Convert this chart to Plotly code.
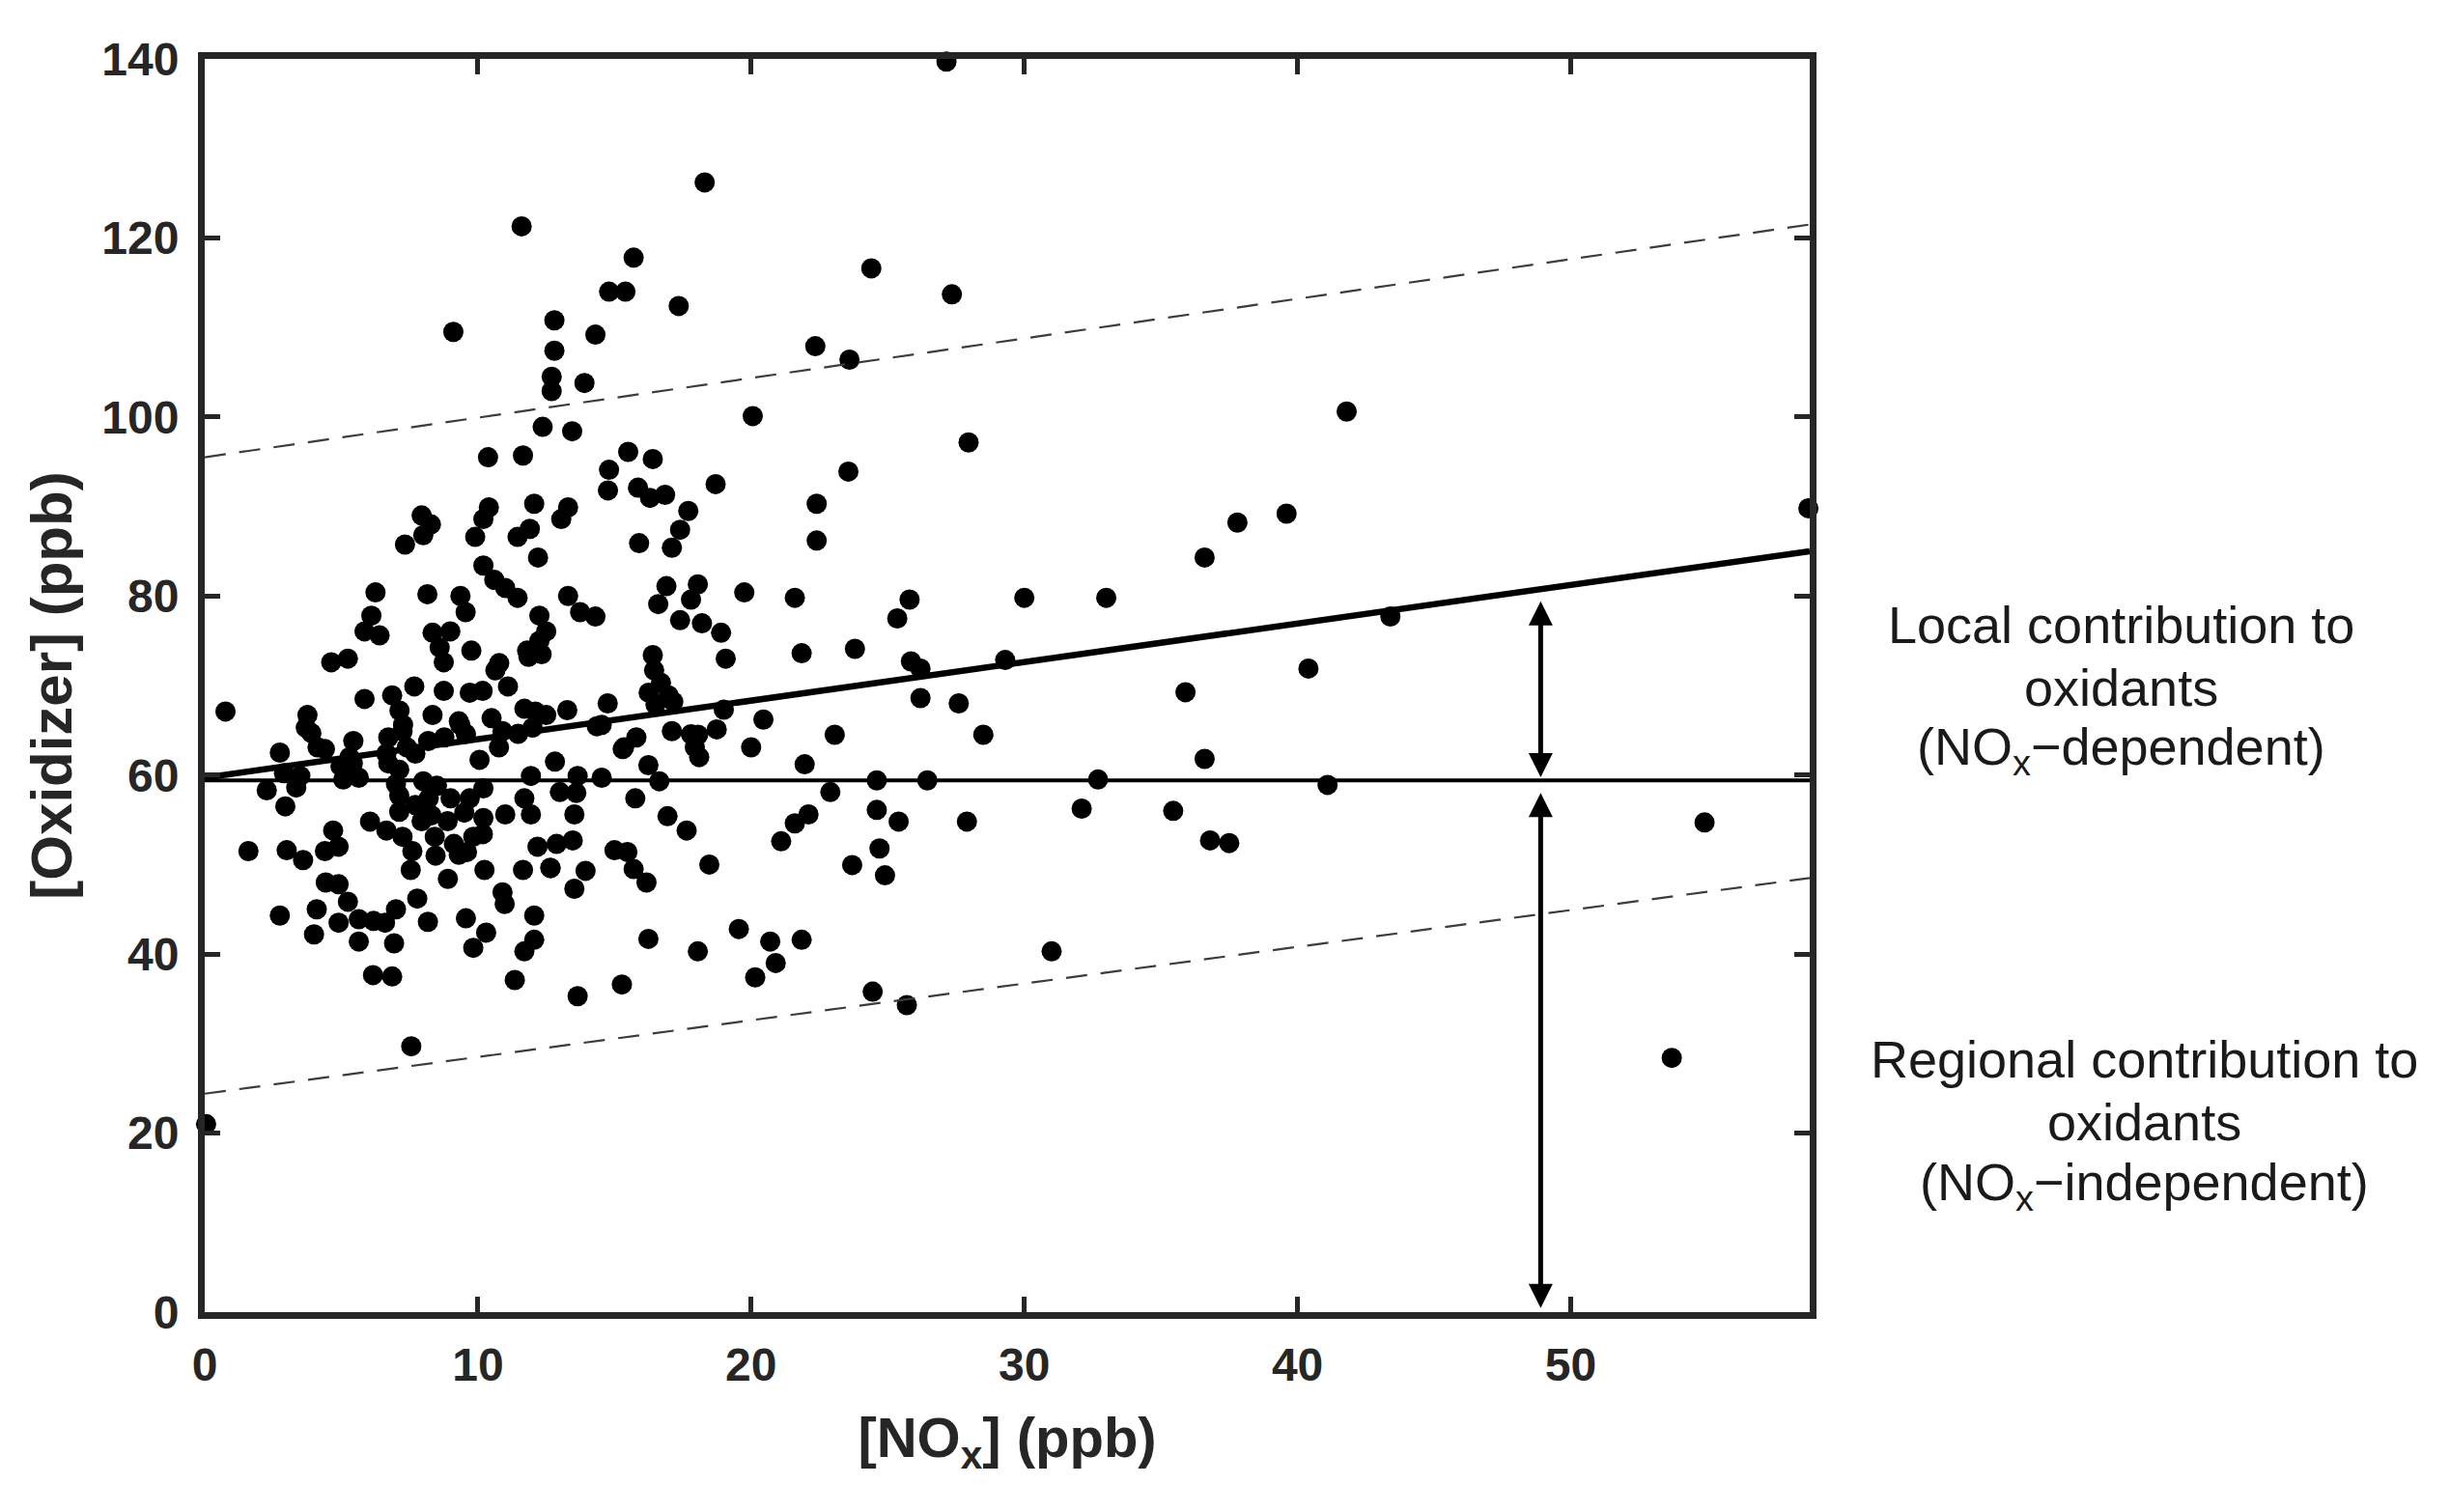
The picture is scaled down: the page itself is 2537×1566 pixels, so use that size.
import plotly.graph_objects as go

# ---- data ----
nox = [
    27.15, 18.3, 11.6, 15.7, 24.4, 14.8, 15.4, 27.35, 17.35, 9.1, 12.8, 14.3, 22.35, 12.8, 23.6,
    12.7, 12.7, 13.9, 20.06, 41.8, 12.37, 13.45, 27.96, 10.37, 11.65, 15.5, 16.4, 14.8, 23.56, 18.7, 15.86,
    14.76, 16.3, 16.85, 22.4, 17.7, 17.4, 17.1, 15.9, 7.94, 8.28, 8.0, 7.33, 10.4, 10.2, 9.9, 12.06,
    11.9, 11.45, 12.2, 13.3, 13.05, 22.4, 36.6, 37.8, 39.6, 58.7,
    10.2, 10.6, 11.0, 11.45, 6.25, 8.15, 9.36, 9.55, 6.1, 5.85, 6.4, 4.63, 5.24, 8.34, 8.99, 8.6, 8.75,
    9.76, 10.78, 10.64, 12.25, 12.5, 11.8, 12.33, 13.3, 13.74, 14.3, 16.4, 16.45, 16.9, 18.05, 16.6,
    17.8, 17.4, 18.2, 18.9, 19.07, 19.75, 21.6, 25.8, 25.35, 30.0, 33.0, 21.85, 23.8, 25.85, 26.2, 29.3,
    43.4, 40.4, 12.25, 11.85,
    0.76, 3.76, 3.9, 4.4, 2.75, 5.85, 5.44, 5.3, 6.86, 7.67, 7.13, 7.26, 8.34, 8.75, 9.7, 10.17, 9.3,
    9.56, 10.5, 10.9, 11.1, 11.7, 12.1, 12.5, 13.27, 12.0, 14.75, 14.35, 15.3, 16.25, 16.7, 16.98, 16.5,
    17.1, 18.06, 18.74, 16.24, 17.15, 26.2, 27.6, 35.9, 19.0, 20.45, 15.8, 20.0, 23.06, 28.5, 36.6,
    21.96, 18.1, 4.13, 3.7, 5.42, 6.65, 7.24, 7.71, 8.18, 8.77, 9.35, 10.06, 10.77, 11.47, 7.12, 14.53,
    15.35, 17.8, 17.94, 12.82, 2.9, 6.72, 7.4, 6.72, 4.97,
    2.27, 2.95, 3.35, 3.5, 5.07, 5.64, 6.05, 7.12, 7.12, 7.71, 8.2, 9.0, 9.7, 6.65, 7.24, 7.94, 8.42,
    8.89, 9.12, 9.83, 10.18, 11.0, 11.94, 11.7, 11.94, 12.18, 4.7, 4.9, 4.4, 3.0, 3.6, 1.6, 13.0, 13.6,
    13.65, 14.53, 13.53, 16.64, 15.76, 16.94, 17.64, 12.88, 13.47, 12.65, 13.94, 13.53, 15.0, 15.47,
    15.7, 16.17, 18.47, 24.6, 26.45, 32.7, 22.9, 24.6, 25.4, 27.9, 32.1, 35.45, 21.6, 22.1, 21.1, 24.7,
    36.8, 37.5, 23.7, 9.3, 41.1, 54.9,
    7.0, 8.0, 8.5, 10.2, 9.5, 8.3, 10.2, 7.6, 9.6,
    4.43, 4.9, 4.1, 5.24, 5.64, 6.18, 6.6, 7.0, 7.78, 8.17, 9.56, 10.9, 10.98, 12.06, 7.54, 8.45, 8.9,
    10.24, 11.65, 2.75, 4.9, 4.0, 5.64, 6.93, 6.16, 6.86, 7.56, 10.3, 9.83, 12.06, 11.7, 11.35, 12.66,
    13.65, 15.27, 16.24, 18.05, 19.55, 20.7, 20.9, 20.15, 21.85, 24.45, 25.7, 31.0, 24.9, 0.05, 53.7,
]
oxidizer = [
    139.7, 126.2, 121.3, 117.8, 116.6, 114.0, 114.0, 113.7, 112.4, 109.5, 110.8, 109.2, 107.9, 107.4, 106.4,
    104.5, 102.9, 103.8, 100.1, 100.6, 98.9, 98.4, 97.15, 95.5, 95.7, 96.1, 95.3, 94.1, 93.9, 92.5, 92.1,
    91.8, 90.96, 91.3, 90.3, 89.5, 87.4, 85.4, 85.9, 89.0, 88.0, 86.8, 85.75, 89.9, 88.6, 86.6, 90.3,
    87.5, 86.6, 84.3, 89.9, 88.6, 86.2, 84.3, 88.2, 89.2, 89.8,
    83.4, 81.8, 80.9, 79.8, 80.4, 80.2, 80.0, 78.2, 77.8, 76.05, 75.6, 72.6, 73.0, 75.9, 76.05, 74.25, 72.6,
    73.9, 72.5, 71.7, 77.8, 76.05, 73.9, 73.5, 80.0, 78.2, 77.7, 73.4, 71.7, 81.1, 81.3, 79.1,
    79.6, 77.3, 76.95, 75.9, 73.0, 80.4, 79.8, 79.6, 77.5, 79.8, 79.8, 73.6, 74.1, 72.7, 71.9, 72.85,
    77.7, 71.9, 75.0, 73.2,
    67.1, 66.7, 64.7, 62.9, 62.5, 68.5, 63.8, 62.0, 68.9, 69.9, 67.2, 65.6, 66.7, 69.4, 69.2, 69.4, 66.0,
    64.6, 66.35, 64.9, 69.9, 67.4, 67.1, 66.7, 67.25, 65.3, 68.0, 65.45, 62.9, 69.2, 70.3, 68.9, 67.9,
    64.9, 64.5, 65.1, 61.1, 68.2, 68.6, 68.0, 69.25, 67.3, 66.2, 64.2, 63.1, 64.5, 64.5, 61.8,
    61.2, 62.0, 63.1, 65.3, 61.3, 62.4, 64.9, 62.4, 63.8, 64.2, 65.6, 61.7, 63.1, 64.6, 60.6, 65.6,
    63.1, 64.55, 63.1, 61.5, 60.2, 64.2, 63.1, 61.3, 61.0,
    58.3, 56.5, 58.6, 59.9, 59.5, 59.7, 54.8, 57.7, 55.9, 56.65, 57.4, 57.4, 57.4, 53.8, 53.1, 54.85, 53.1,
    54.85, 52.3, 53.1, 53.4, 55.6, 55.6, 57.4, 59.9, 52.0, 53.8, 52.0, 51.5, 51.6, 50.5, 51.5, 58.1, 58.0,
    59.9, 59.7, 55.6, 59.3, 57.4, 55.4, 53.8, 52.3, 52.7, 49.65, 49.3, 47.3, 51.6, 51.4,
    49.5, 48.0, 50.0, 59.4, 59.4, 59.5, 58.1, 56.1, 54.8, 54.8, 56.25, 56.0, 54.6, 55.6, 52.6, 51.8,
    52.7, 52.4, 49.95, 51.1, 58.9, 54.7,
    59.0, 59.3, 58.8, 58.5, 55.8, 55.5, 55.2, 51.5, 51.4,
    48.0, 47.8, 45.0, 45.85, 43.9, 43.7, 43.5, 45.0, 46.2, 43.6, 44.0, 46.9, 45.6, 44.3, 49.4, 51.0, 48.4,
    49.4, 49.4, 44.3, 43.5, 42.2, 41.4, 41.2, 37.65, 37.5, 29.7, 42.4, 40.7, 41.6, 40.3, 37.1, 49.6,
    35.3, 36.6, 41.7, 40.3, 42.8, 41.4, 39.0, 37.4, 41.6, 35.8, 34.3, 40.3, 48.8, 21.0, 28.4,
]

# reference lines (end points at x = 0 and the right edge)
line_x = [0, 58.75]
fit_y = [59.7, 85.0]
upper_y = [95.5, 121.5]
lower_y = [24.4, 48.5]
baseline_y = [59.4, 59.4]

# double arrows
arrow_x = 48.9
local_span = [59.6, 79.4]
regional_span = [0.3, 58.0]

x_ticks = [0, 10, 20, 30, 40, 50]
y_ticks = [0, 20, 40, 60, 80, 100, 120, 140]

local_lines = ["Local contribution to", "oxidants", "(NO<sub>x</sub>\u2212dependent)"]
regional_lines = ["Regional contribution to", "oxidants", "(NO<sub>x</sub>\u2212independent)"]

W, H = 2537, 1566
L, R, T, B = 212, 663, 61, 207
axis_col = "#262626"
FONT = "Liberation Sans, Arial, sans-serif"

fig = go.Figure()
fig.add_trace(go.Scatter(x=nox, y=oxidizer, mode="markers",
                         marker=dict(size=21, color="black", line=dict(width=0)),
                         cliponaxis=False, hoverinfo="skip"))
for yy in (upper_y, lower_y):
    fig.add_trace(go.Scatter(x=line_x, y=yy, mode="lines",
                             line=dict(color="#3c3c3c", width=2.2, dash="22px,14px")))
fig.add_trace(go.Scatter(x=line_x, y=fit_y, mode="lines", line=dict(color="black", width=6.5)))
fig.add_trace(go.Scatter(x=line_x, y=baseline_y, mode="lines", line=dict(color="black", width=4)))

annotations = []
for (y0, y1) in (local_span, regional_span):
    annotations.append(dict(x=arrow_x, y=y1, ax=arrow_x, ay=y0, xref="x", yref="y",
                            axref="x", ayref="y", text="", showarrow=True,
                            arrowhead=2, startarrowhead=2, arrowside="end+start",
                            arrowsize=1, startarrowsize=1, arrowwidth=5, arrowcolor="black",
                            standoff=0, startstandoff=0))

pw = W - L - R
ph = H - T - B

def px2paper(px, py):
    return (px - L) / pw, (H - B - py) / ph

for txt, py in zip(local_lines, [647, 712, 777]):
    xx, yy = px2paper(2196, py)
    annotations.append(dict(x=xx, y=yy, xref="paper", yref="paper", text=txt, showarrow=False,
                            xanchor="center", yanchor="middle",
                            font=dict(family=FONT, size=54, color="#1a1a1a")))
for txt, py in zip(regional_lines, [1097, 1162, 1228]):
    xx, yy = px2paper(2220, py)
    annotations.append(dict(x=xx, y=yy, xref="paper", yref="paper", text=txt, showarrow=False,
                            xanchor="center", yanchor="middle",
                            font=dict(family=FONT, size=54, color="#1a1a1a")))

axis_common = dict(showline=True, linewidth=7, linecolor=axis_col, mirror="allticks",
                   ticks="inside", ticklen=16, tickwidth=5, tickcolor=axis_col,
                   showgrid=False, zeroline=False,
                   tickfont=dict(family=FONT, size=48, color=axis_col, weight="bold"))

fig.update_layout(
    width=W, height=H, autosize=False,
    margin=dict(l=L, r=R, t=T, b=B),
    paper_bgcolor="white", plot_bgcolor="white", showlegend=False,
    annotations=annotations,
    xaxis=dict(range=[0, 58.75], tickvals=x_ticks, ticklabelstandoff=6,
               title=dict(text="[NO<sub>x</sub>] (ppb)", standoff=32,
                          font=dict(family=FONT, size=58, color=axis_col, weight="bold")),
               **axis_common),
    yaxis=dict(range=[0, 140], tickvals=y_ticks, ticklabelstandoff=10,
               title=dict(text="[Oxidizer] (ppb)", standoff=14,
                          font=dict(family=FONT, size=60, color=axis_col, weight="bold")),
               **axis_common),
)

fig.write_html("out.html", config={"displayModeBar": False},
               post_script="document.body.style.margin='0px';")
